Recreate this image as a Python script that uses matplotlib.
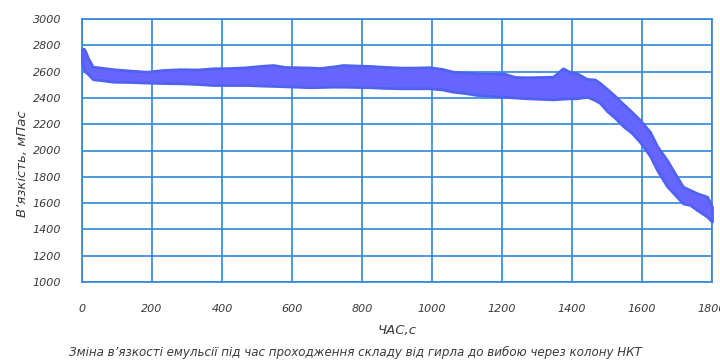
import matplotlib
matplotlib.use("Agg")
import matplotlib.pyplot as plt

# Time, s
time_s = [0, 5, 9, 17, 31, 51, 89, 137, 186, 231, 280, 329, 374, 423, 471, 509, 546,
          580, 614, 651, 680, 717, 746, 786, 823, 871, 917, 957, 994, 1029, 1060,
          1094, 1129, 1166, 1203, 1237, 1271, 1309, 1346, 1374, 1394, 1414, 1443,
          1465, 1480, 1500, 1523, 1546, 1571, 1594, 1623, 1643, 1671, 1700, 1717,
          1737, 1757, 1786, 1800]

# Upper edge of the measured viscosity band, mPa*s
visc_upper = [2770, 2775, 2757, 2703, 2637, 2631, 2618, 2608, 2599, 2612, 2618, 2616, 2625,
              2627, 2633, 2643, 2650, 2635, 2633, 2631, 2627, 2639, 2650, 2646, 2643,
              2635, 2630, 2631, 2633, 2620, 2599, 2593, 2587, 2585, 2587, 2559, 2557,
              2559, 2561, 2625, 2597, 2587, 2544, 2540, 2513, 2468, 2414, 2354, 2293,
              2232, 2141, 2034, 1928, 1799, 1725, 1700, 1675, 1649, 1573]

# Lower edge of the measured viscosity band, mPa*s
visc_lower = [2660, 2620, 2600, 2582, 2542, 2536, 2523, 2521, 2516, 2513, 2511, 2506, 2498,
              2498, 2498, 2494, 2491, 2488, 2485, 2481, 2483, 2485, 2485, 2483, 2481,
              2475, 2473, 2473, 2473, 2464, 2447, 2437, 2422, 2415, 2409, 2403, 2397,
              2393, 2389, 2394, 2397, 2397, 2409, 2384, 2361, 2300, 2247, 2186, 2133,
              2065, 1958, 1852, 1730, 1646, 1598, 1586, 1548, 1497, 1459]

x_ticks = [0, 200, 400, 600, 800, 1000, 1200, 1400, 1600, 1800]
y_ticks = [1000, 1200, 1400, 1600, 1800, 2000, 2200, 2400, 2600, 2800, 3000]

x_label = "ЧАС,с"
y_label = "В’язкість, мПас"
title = "Зміна в’язкості емульсії під час проходження складу від гирла до вибою через колону НКТ"

plt.rcParams["font.family"] = ["DejaVu Sans"]

grid_color = "#2f86dd"
text_color = "#3a3a3a"
band_face = "#6666ff"
band_edge = "#5062f2"

fig = plt.figure(figsize=(7.2, 3.61), dpi=100)
ax = fig.add_axes([82 / 720, 79 / 361, 630 / 720, 263 / 361])

ax.set_xlim(0, 1800)
ax.set_ylim(1000, 3000)
ax.set_xticks(x_ticks)
ax.set_yticks(y_ticks)
ax.set_xticklabels([str(v) for v in x_ticks])
ax.set_yticklabels([str(v) for v in y_ticks])

ax.grid(True, color=grid_color, linewidth=1.2, zorder=0)
ax.set_axisbelow(True)
for sp in ax.spines.values():
    sp.set_color(grid_color)
    sp.set_linewidth(1.2)

ax.tick_params(length=0, labelsize=8, colors=text_color)
ax.tick_params(axis="x", pad=16)
ax.tick_params(axis="y", pad=15)
for lbl in ax.get_xticklabels() + ax.get_yticklabels():
    lbl.set_fontstyle("italic")

ax.fill_between(time_s, visc_lower, visc_upper, facecolor=band_face,
                edgecolor=band_edge, linewidth=2.0, joinstyle="round",
                clip_on=False, zorder=3)

ax.set_xlabel(x_label, fontsize=9.5, fontstyle="italic", color=text_color, labelpad=7)
ax.set_ylabel(y_label, fontsize=9.5, fontstyle="italic", color=text_color)
ax.yaxis.set_label_coords(-0.084, 0.45)

fig.text(0.494, 0.025, title, ha="center", va="center", fontsize=8.6,
         fontstyle="italic", color=text_color)

fig.savefig("out.png", dpi=100, facecolor="white")
